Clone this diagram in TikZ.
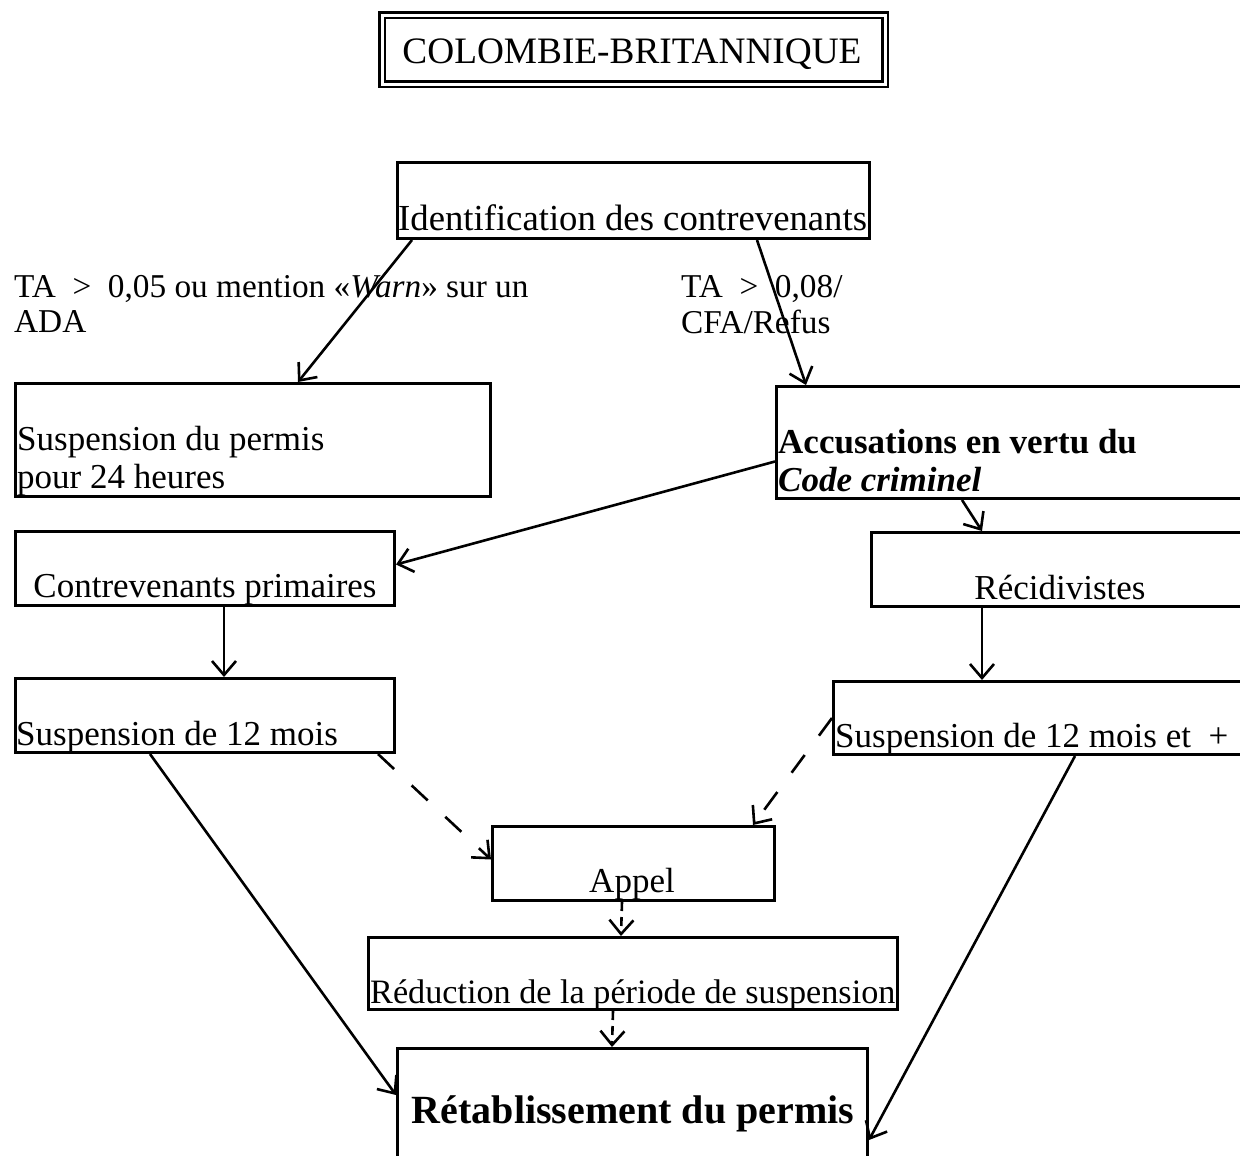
\documentclass[tikz,border=0pt]{standalone}
\usepackage{fontspec}
\setmainfont{Liberation Serif}
\usetikzlibrary{arrows.meta,calc}
\tikzset{
  box/.style={draw, line width=3pt, rectangle, inner sep=0pt, anchor=north west},
  txt/.style={inner sep=0pt, anchor=base west, font=\fontsize{35}{35}\selectfont},
  ctxt/.style={txt, anchor=base},
  lbl/.style={txt, font=\fontsize{33.3}{33.3}\selectfont},
  flow/.style={line width=2.6pt, -{Straight Barb[length=14pt,width=24pt,line width=2.6pt]}},
  maybe/.style={flow, dash pattern=on 22pt off 24pt},
  short/.style={flow, dash pattern=on 9pt off 6pt},
}
\begin{document}
\begin{tikzpicture}[x=1pt,y=-1pt]
\fill[white] (0,0) rectangle (1240,1156);
\useasboundingbox (0,0) rectangle (1240,1156);

% title with double frame
\node[draw, double, line width=2.6pt, double distance=3pt, rectangle, inner sep=0pt,
      anchor=north west, minimum width=503pt, minimum height=69pt] (title) at (381,14) {};
\node[ctxt, font=\fontsize{37.3}{37.3}\selectfont] (titletext) at (632,64) {COLOMBIE-BRITANNIQUE};

% boxes
\node[box, minimum width=472pt, minimum height=76pt]  (ident)  at (396,161) {};
\node[box, minimum width=475pt, minimum height=113pt] (susp24) at (14,382) {};
\node[box, minimum width=475pt, minimum height=112pt] (accus)  at (775,385) {};
\node[box, minimum width=379pt, minimum height=74pt]  (prim)   at (14,530) {};
\node[box, minimum width=380pt, minimum height=74pt]  (recid)  at (870,531) {};
\node[box, minimum width=379pt, minimum height=74pt]  (s12)    at (14,677) {};
\node[box, minimum width=418pt, minimum height=73pt]  (s12p)   at (832,680) {};
\node[box, minimum width=282pt, minimum height=74pt]  (appel)  at (491,825) {};
\node[box, minimum width=529pt, minimum height=72pt]  (reduc)  at (367,936) {};
\node[box, minimum width=470pt, minimum height=125pt] (retab)  at (396,1047) {};

% texts
\node[txt, font=\fontsize{36.7}{36.7}\selectfont] (identtext) at (398,230) {Identification des contrevenants};
\node[lbl] (lefta) at (14,297) {TA\ \ >\ \ 0,05 ou mention «\textit{Warn}» sur un};
\node[lbl] (leftb) at (14,332) {ADA};
\node[lbl] (righta) at (681,297) {TA\ \ >\ \ 0,08/};
\node[lbl] (rightb) at (681,333) {CFA/Refus};
\node[txt] (susp24a) at (17,450) {Suspension du permis};
\node[txt] (susp24b) at (17,488) {pour 24 heures};
\node[txt, font=\bfseries\fontsize{35}{35}\selectfont] (accusa) at (778,453) {Accusations en vertu du};
\node[txt, font=\bfseries\itshape\fontsize{35}{35}\selectfont] (accusb) at (778,491) {Code criminel};
\node[ctxt] (primtext) at (205,597) {Contrevenants primaires};
\node[ctxt] (recidtext) at (1060,599) {Récidivistes};
\node[txt] (s12text) at (16,745) {Suspension de 12 mois};
\node[txt] (s12ptext) at (835,747) {Suspension de 12 mois et\ \ +};
\node[ctxt] (appeltext) at (632,892) {Appel};
\node[txt, font=\fontsize{34.2}{34.2}\selectfont] (reductext) at (370,1003) {Réduction de la période de suspension};
\node[ctxt, font=\bfseries\fontsize{40}{40}\selectfont] (retabtext) at (633,1123) {Rétablissement\ du\ permis};

% connectors
\draw[flow] ([xshift=16pt]ident.south west) -- ([xshift=284pt]susp24.north west);
\draw[flow] ([xshift=361pt]ident.south west) -- ([xshift=31pt]accus.north west);
\draw[flow] ([yshift=-19pt]accus.west) -- ([yshift=4pt]prim.east);
\draw[flow] ([xshift=187pt]accus.south west) -- ([xshift=112pt]recid.north west);
\draw[flow] ([xshift=210pt]prim.south west) -- ([xshift=210pt]s12.north west);
\draw[flow] ([xshift=112pt]recid.south west) -- ([xshift=150pt]s12p.north west);
\draw[maybe] ([xshift=-18pt]s12.south east) -- ([yshift=4pt]appel.west);
\draw[maybe] (s12p.west) -- ([xshift=-23pt]appel.north east);
\draw[short] ([xshift=131pt]appel.south west) -- ([xshift=254pt]reduc.north west);
\draw[short] ([xshift=246pt]reduc.south west) -- ([xshift=216pt]retab.north west);
\draw[flow] ([xshift=136pt]s12.south west) -- ([yshift=-48pt]retab.north west);
\draw[flow] ([xshift=243pt]s12p.south west) -- ([yshift=-93pt]retab.north east);
\end{tikzpicture}
\end{document}
